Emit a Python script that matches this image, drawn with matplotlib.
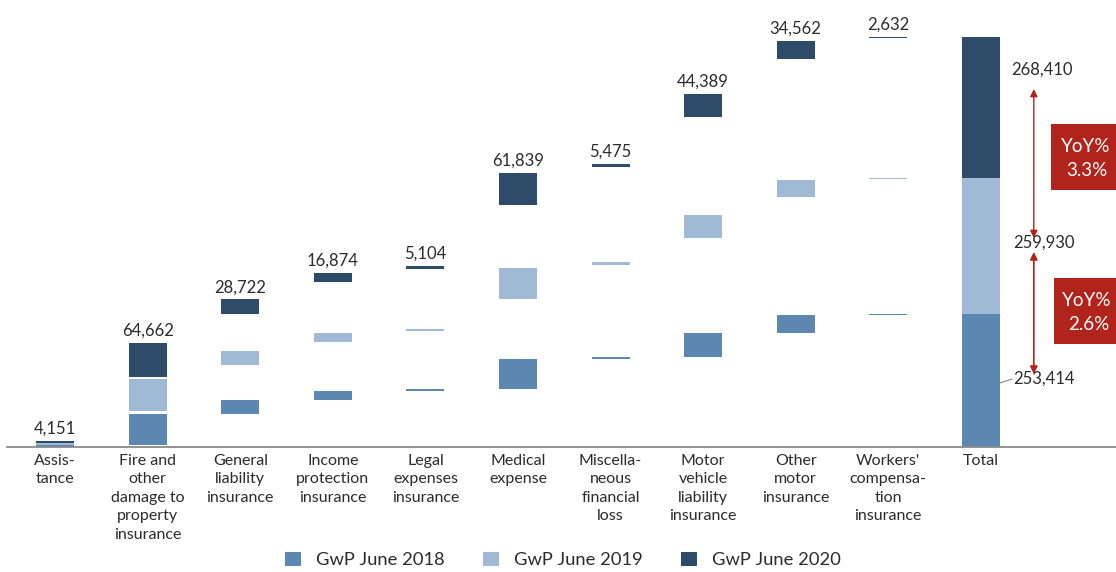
import numpy as np
import matplotlib
matplotlib.use("Agg")
import matplotlib.pyplot as plt
from matplotlib.patches import Patch, Rectangle

plt.rcParams['font.family'] = ['Lato', 'DejaVu Sans']

categories = [
    "Assis-\ntance",
    "Fire and\nother\ndamage to\nproperty\ninsurance",
    "General\nliability\ninsurance",
    "Income\nprotection\ninsurance",
    "Legal\nexpenses\ninsurance",
    "Medical\nexpense",
    "Miscella-\nneous\nfinancial\nloss",
    "Motor\nvehicle\nliability\ninsurance",
    "Other\nmotor\ninsurance",
    "Workers'\ncompensa-\ntion\ninsurance",
]
total_label = "Total"

gwp_2018 = [3890, 59750, 26300, 16550, 3900, 56300, 5600, 45100, 33400, 2624]
gwp_2019 = [4050, 61900, 27800, 16300, 4600, 59700, 5500, 44800, 32600, 2680]
gwp_2020 = [4151, 64662, 28722, 16874, 5104, 61839, 5475, 44389, 34562, 2632]

series_names = ["GwP June 2018", "GwP June 2019", "GwP June 2020"]
colors = ["#5C87B1", "#A0B9D5", "#2E4B6A"]
text_color = "#2b2b2b"
red = "#B0241C"

years = [np.array(gwp_2018), np.array(gwp_2019), np.array(gwp_2020)]
totals = [int(v.sum()) for v in years]

fig = plt.figure(figsize=(11.16, 5.72), dpi=100)
W, H = 1116, 572
ax = fig.add_axes([7 / W, 125 / H, 1109 / W, 447 / H])

n = len(categories)
x = np.arange(n)
width = 0.41

# Each year forms its own cumulative band, stacked on the previous years' cumulative values
cum = [np.cumsum(v) for v in years]
base = np.zeros(n)
for k, (vals, c) in enumerate(zip(years, cum)):
    top = base + c
    ax.bar(x, vals, width=width, bottom=top - vals, color=colors[k], linewidth=0)
    base = top

# Total column
xt = n
bottom = 0
for k, t in enumerate(totals):
    ax.bar(xt, t, width=width, bottom=bottom, color=colors[k], linewidth=0)
    bottom += t

# Value labels for the latest year
for i in range(n):
    ax.annotate(f"{years[2][i]:,}", (x[i], base[i]), xytext=(0, 3),
                textcoords="offset points", ha="center", va="bottom",
                fontsize=12, color=text_color)

ymax = 851500
ax.set_xlim(-0.52, 11.46)
ax.set_ylim(0, ymax)

def py(px):
    return (447 - px) / 447 * ymax

def px_x(px):
    return (px - 55) / 92.6

# Totals labels on the right of the total column
lab_2020 = (px_x(1011), py(70))
lab_2019 = (px_x(1013), py(243))
lab_2018 = (px_x(1013), py(379))
ax.text(*lab_2020, f"{totals[2]:,}", ha="left", va="center", fontsize=12, color=text_color)
ax.text(*lab_2019, f"{totals[1]:,}", ha="left", va="center", fontsize=12, color=text_color)
ax.text(*lab_2018, f"{totals[0]:,}", ha="left", va="center", fontsize=12, color=text_color)
ax.plot([px_x(1000), px_x(1012)], [py(383), py(379)], color="#888888", lw=0.8)

# Year-over-year arrows
xa = px_x(1034)
ax.annotate("", xy=(xa, py(89)), xytext=(xa, py(238)),
            arrowprops=dict(arrowstyle="<|-|>", color=red, lw=1.0, mutation_scale=11,
                            shrinkA=0, shrinkB=0))
ax.annotate("", xy=(xa, py(252)), xytext=(xa, py(374)),
            arrowprops=dict(arrowstyle="<|-|>", color=red, lw=1.2, mutation_scale=11,
                            shrinkA=0, shrinkB=0))

yoy_19 = (totals[1] / totals[0] - 1) * 100
yoy_20 = (totals[2] / totals[1] - 1) * 100
for (top_px, bot_px, left_px), val in [((124, 190, 1051), yoy_20), ((278, 344, 1054), yoy_19)]:
    rect = Rectangle((px_x(left_px), py(bot_px)), px_x(1120) - px_x(left_px),
                     py(top_px) - py(bot_px), facecolor=red, edgecolor="none",
                     clip_on=False)
    ax.add_patch(rect)
    cx = px_x((left_px + 1116) / 2 + 2)
    ax.text(cx, py(top_px + 22), "YoY%", ha="center", va="center", fontsize=13.5,
            color="white")
    ax.text(cx + 0.02, py(top_px + 47), f"{val:.1f}%", ha="center", va="center",
            fontsize=13.5, color="white")

# Axes styling
for s in ["top", "right", "left"]:
    ax.spines[s].set_visible(False)
ax.spines["bottom"].set_color("#8a8a8a")
ax.spines["bottom"].set_linewidth(1.3)
ax.set_yticks([])
ax.set_xticks(list(x) + [xt])
ax.set_xticklabels(categories + [total_label], fontsize=11.5, color=text_color,
                   linespacing=1.40)
ax.tick_params(axis="x", length=0, pad=5)

handles = [Patch(facecolor=c, edgecolor="none") for c in colors]
fig.legend(handles, series_names, loc="center", bbox_to_anchor=(563 / W, 12 / H),
           ncol=3, frameon=False, fontsize=13.2, handlelength=0.87, handleheight=0.87,
           handletextpad=0.82, columnspacing=2.1, labelcolor=text_color)

fig.savefig("out.png", dpi=100)
